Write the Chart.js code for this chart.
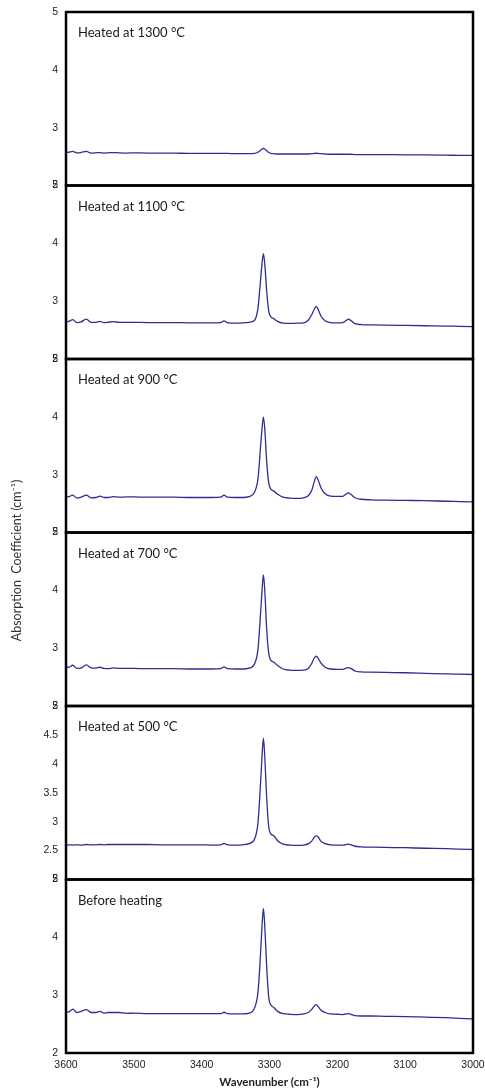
<!DOCTYPE html>
<html>
<head>
<meta charset="utf-8">
<script src="https://cdn.jsdelivr.net/npm/chart.js@4"></script>
<style>
  html, body { margin: 0; padding: 0; background: #fff; }
  #wrap { position: relative; width: 485px; height: 1090px; }
</style>
</head>
<body>
<div id="wrap"><canvas id="ftirChart" width="485" height="1090"></canvas></div>
<script>
// wavenumber grid (cm-1), denser around the peaks
const wavenumbers = [3600, 3596, 3590, 3584, 3578, 3570, 3563, 3556, 3550, 3544,
  3538, 3530, 3522, 3510, 3500, 3480, 3460, 3440, 3420, 3400,
  3385, 3372, 3367, 3362, 3350, 3340, 3330, 3322, 3317, 3314,
  3311, 3309, 3307, 3304, 3301, 3298, 3294, 3288, 3280, 3270,
  3260, 3250, 3243, 3238, 3234, 3231, 3228, 3224, 3218, 3210,
  3200, 3192, 3187, 3184, 3180, 3174, 3165, 3150, 3130, 3100,
  3070, 3040, 3020, 3000];

const heated1300 = [2.57, 2.575, 2.59, 2.565, 2.57, 2.59, 2.56, 2.565, 2.57, 2.56,
  2.565, 2.57, 2.565, 2.56, 2.565, 2.56, 2.56, 2.56, 2.555, 2.555,
  2.555, 2.555, 2.555, 2.555, 2.55, 2.55, 2.55, 2.555, 2.575, 2.60,
  2.63, 2.64, 2.63, 2.60, 2.57, 2.555, 2.55, 2.545, 2.545, 2.545,
  2.545, 2.545, 2.545, 2.55, 2.555, 2.558, 2.555, 2.55, 2.545, 2.54,
  2.54, 2.54, 2.54, 2.54, 2.54, 2.535, 2.535, 2.535, 2.535, 2.53,
  2.53, 2.525, 2.52, 2.52];

const heated1100 = [2.645, 2.65, 2.68, 2.63, 2.64, 2.69, 2.635, 2.635, 2.65, 2.63,
  2.635, 2.645, 2.635, 2.635, 2.635, 2.63, 2.63, 2.63, 2.625, 2.625,
  2.625, 2.63, 2.66, 2.625, 2.62, 2.625, 2.635, 2.67, 2.88, 3.25,
  3.65, 3.82, 3.65, 3.15, 2.82, 2.73, 2.70, 2.65, 2.62, 2.615,
  2.62, 2.625, 2.67, 2.76, 2.86, 2.91, 2.85, 2.74, 2.66, 2.63,
  2.625, 2.63, 2.665, 2.69, 2.665, 2.61, 2.595, 2.59, 2.585, 2.58,
  2.575, 2.57, 2.565, 2.56];

const heated900 = [2.615, 2.62, 2.645, 2.595, 2.61, 2.645, 2.60, 2.605, 2.63, 2.605,
  2.605, 2.62, 2.61, 2.615, 2.615, 2.61, 2.61, 2.61, 2.605, 2.605,
  2.605, 2.61, 2.645, 2.61, 2.605, 2.605, 2.62, 2.70, 2.93, 3.35,
  3.80, 3.995, 3.80, 3.20, 2.85, 2.75, 2.72, 2.66, 2.61, 2.595,
  2.59, 2.60, 2.635, 2.72, 2.88, 2.965, 2.90, 2.77, 2.67, 2.63,
  2.625, 2.625, 2.665, 2.685, 2.66, 2.60, 2.575, 2.565, 2.56, 2.555,
  2.55, 2.54, 2.535, 2.53];

const heated700 = [2.67, 2.67, 2.705, 2.65, 2.655, 2.71, 2.66, 2.655, 2.67, 2.65,
  2.645, 2.66, 2.65, 2.65, 2.65, 2.645, 2.645, 2.645, 2.64, 2.64,
  2.64, 2.645, 2.675, 2.645, 2.64, 2.64, 2.655, 2.73, 2.98, 3.45,
  4.00, 4.265, 4.00, 3.30, 2.90, 2.79, 2.76, 2.70, 2.64, 2.62,
  2.615, 2.62, 2.65, 2.73, 2.83, 2.86, 2.82, 2.74, 2.67, 2.64,
  2.635, 2.635, 2.655, 2.665, 2.65, 2.605, 2.59, 2.585, 2.58, 2.575,
  2.565, 2.555, 2.55, 2.545];

const heated500 = [2.595, 2.60, 2.595, 2.60, 2.595, 2.605, 2.60, 2.60, 2.605, 2.60,
  2.605, 2.605, 2.605, 2.605, 2.605, 2.605, 2.60, 2.60, 2.60, 2.60,
  2.595, 2.60, 2.625, 2.60, 2.595, 2.60, 2.62, 2.70, 2.98, 3.50,
  4.13, 4.445, 4.13, 3.38, 2.90, 2.79, 2.76, 2.67, 2.61, 2.595,
  2.59, 2.595, 2.615, 2.66, 2.73, 2.76, 2.73, 2.66, 2.62, 2.60,
  2.595, 2.595, 2.605, 2.61, 2.60, 2.575, 2.565, 2.56, 2.555, 2.55,
  2.54, 2.535, 2.525, 2.52];

const beforeHeating = [2.72, 2.71, 2.76, 2.70, 2.72, 2.75, 2.70, 2.70, 2.72, 2.69,
  2.70, 2.70, 2.70, 2.685, 2.69, 2.68, 2.68, 2.68, 2.68, 2.68,
  2.68, 2.68, 2.705, 2.68, 2.675, 2.675, 2.69, 2.78, 3.05, 3.55,
  4.20, 4.50, 4.20, 3.45, 2.95, 2.83, 2.79, 2.72, 2.68, 2.67,
  2.665, 2.675, 2.70, 2.75, 2.81, 2.835, 2.80, 2.74, 2.70, 2.675,
  2.67, 2.665, 2.675, 2.68, 2.67, 2.645, 2.64, 2.64, 2.635, 2.63,
  2.62, 2.61, 2.60, 2.59];

// panels from top to bottom
const panelTitles = ['Heated at 1300 °C', 'Heated at 1100 °C', 'Heated at 900 °C',
  'Heated at 700 °C', 'Heated at 500 °C', 'Before heating'];
const panelSeries = [heated1300, heated1100, heated900, heated700, heated500, beforeHeating];
const yStepSizes = [1, 1, 1, 1, 0.5, 1];
const yMin = 2, yMax = 5;
const xTicks = [3600, 3500, 3400, 3300, 3200, 3100, 3000];

const lineColor = '#2e2e92';
const tickFont = { family: 'Liberation Sans, Arial, sans-serif', size: 10.5 };
const panelIds = panelTitles.map((t, i) => 'y' + i);

const datasets = panelSeries.map((vals, i) => ({
  label: panelTitles[i],
  data: wavenumbers.map((w, j) => ({ x: w, y: vals[j] })),
  yAxisID: panelIds[i],
  borderColor: lineColor,
  borderWidth: 1.3,
  pointRadius: 0,
  cubicInterpolationMode: 'monotone',
  fill: false
}));

const scales = {
  x: {
    type: 'linear',
    reverse: true,
    min: xTicks[xTicks.length - 1],
    max: xTicks[0],
    grid: { display: false, drawTicks: false },
    border: { display: false },
    ticks: { stepSize: 100, autoSkip: false, maxRotation: 0, padding: 6,
      color: '#222', font: { family: 'Liberation Sans, Arial, sans-serif', size: 10.5 },
      callback: (v) => String(v) },
    title: { display: true, text: 'Wavenumber (cm⁻¹)', color: '#222',
      font: { family: 'Lato, sans-serif', size: 11.5, weight: 'bold' }, padding: { top: 2, bottom: 1 } },
    afterFit(scale) { scale.height = 37; scale.paddingLeft = 0; scale.paddingRight = 0; }
  }
};
// bottom panel first: later stacked left axes are placed on top
for (let i = panelIds.length - 1; i >= 0; i--) {
  scales[panelIds[i]] = {
    type: 'linear',
    position: 'left',
    stack: 'panels',
    stackWeight: 1,
    min: yMin,
    max: yMax,
    grid: { display: false, drawTicks: false },
    border: { display: false },
    ticks: { stepSize: yStepSizes[i], autoSkip: false, padding: 8, color: '#222', font: tickFont,
      callback: (v) => String(v) },
    afterFit(scale) { scale.width = 66; scale.paddingTop = 0; scale.paddingBottom = 0; }
  };
}

const panelFrames = {
  id: 'panelFrames',
  afterDraw(chart) {
    const { ctx, chartArea } = chart;
    ctx.save();
    panelIds.forEach((id, i) => {
      const s = chart.scales[id];
      ctx.strokeStyle = '#000';
      ctx.lineWidth = 2.5;
      ctx.strokeRect(chartArea.left, s.top, chartArea.right - chartArea.left, s.bottom - s.top);
      ctx.fillStyle = '#1a1a1a';
      ctx.font = '13px Lato, sans-serif';
      ctx.textAlign = 'left';
      ctx.textBaseline = 'middle';
      ctx.fillText(panelTitles[i], chartArea.left + 12, s.top + 21);
    });
    // shared y axis title
    ctx.translate(17, (chartArea.top + chartArea.bottom) / 2 + 28);
    ctx.rotate(-Math.PI / 2);
    ctx.textAlign = 'center';
    ctx.fillStyle = '#333';
    ctx.font = '12.5px Lato, sans-serif';
    ctx.fillText('Absorption  Coefficient (cm⁻¹)', 0, 0);
    ctx.restore();
  }
};

new Chart(document.getElementById('ftirChart'), {
  type: 'line',
  data: { datasets: datasets },
  options: {
    responsive: false,
    animation: false,
    layout: { padding: { top: 12, right: 12, left: 0, bottom: 0 } },
    plugins: { legend: { display: false }, tooltip: { enabled: false } },
    scales: scales
  },
  plugins: [panelFrames]
});
</script>
</body>
</html>
